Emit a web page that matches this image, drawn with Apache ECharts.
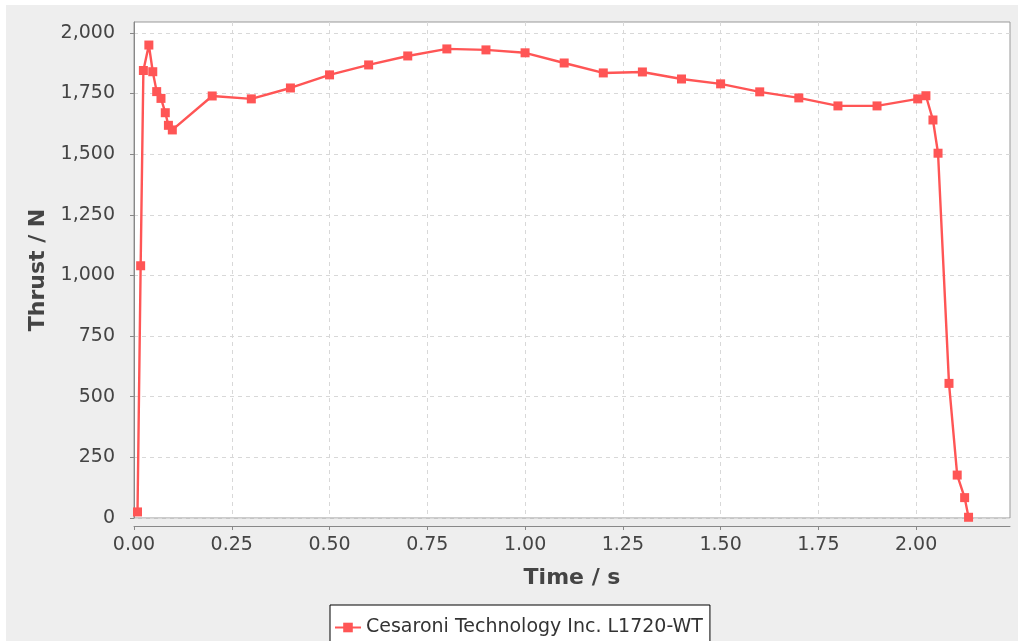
<!DOCTYPE html>
<html>
<head>
<meta charset="utf-8">
<script src="https://cdn.jsdelivr.net/npm/echarts@6/dist/echarts.min.js"></script>
<style>
  html, body { margin: 0; padding: 0; background: #fff; }
  #chart { width: 1018px; height: 641px; }
</style>
</head>
<body>
<div id="chart"></div>
<script>
// thrust curve
var times = [0.009, 0.017, 0.024, 0.038, 0.048, 0.058, 0.069, 0.080, 0.088, 0.098,
    0.2, 0.3, 0.4, 0.5, 0.6, 0.7, 0.8, 0.9, 1.0, 1.1, 1.2, 1.3, 1.4, 1.5, 1.6, 1.7, 1.8, 1.9,
    2.004, 2.025, 2.043, 2.056, 2.084, 2.105, 2.124, 2.134];
var thrust = [25, 1040, 1845, 1950, 1840, 1758, 1730, 1671, 1619, 1600,
    1740, 1728, 1773, 1827, 1868, 1905, 1934, 1930, 1918, 1876, 1835, 1839, 1810, 1790, 1757, 1732, 1699, 1699,
    1728, 1741, 1641, 1504, 555, 177, 84, 3];
var xTicks = [0, 0.25, 0.5, 0.75, 1.0, 1.25, 1.5, 1.75, 2.0];
var yTicks = [0, 250, 500, 750, 1000, 1250, 1500, 1750, 2000];
var seriesName = 'Cesaroni Technology Inc. L1720-WT';

var chart = echarts.init(document.getElementById('chart'));

var points = [];
for (var i = 0; i < times.length; i++) {
    points.push([times[i], thrust[i]]);
}

var font = 'DejaVu Sans';

var option = {
    backgroundColor: '#ffffff',
    animation: false,
    graphic: [{
        type: 'rect',
        left: 6, top: 5,
        shape: {width: 1012, height: 636},
        style: {fill: '#eeeeee'},
        z: -10
    }],
    grid: {
        left: 134, right: 8, top: 22, bottom: 123,
        show: true,
        backgroundColor: '#ffffff',
        borderColor: '#999999',
        borderWidth: 1
    },
    legend: {
        left: 330, top: 605,
        data: [seriesName],
        backgroundColor: '#ffffff',
        borderColor: '#000000',
        borderWidth: 1,
        padding: [13, 7, 12, 4],
        itemWidth: 26,
        itemHeight: 12,
        textStyle: {fontFamily: font, fontSize: 19, color: '#333333'}
    },
    xAxis: {
        type: 'value',
        min: 0, max: 2.24,
        offset: 8,
        name: 'Time / s',
        nameLocation: 'middle',
        nameGap: 41,
        nameTextStyle: {fontFamily: font, fontSize: 22, fontWeight: 'bold', color: '#444444'},
        axisLine: {show: true, onZero: false, lineStyle: {color: '#888888', width: 1}},
        axisTick: {show: true, length: 4, customValues: xTicks, lineStyle: {color: '#888888'}},
        axisLabel: {
            customValues: xTicks,
            margin: 10,
            fontFamily: font, fontSize: 19, color: '#444444',
            formatter: function (v) { return v.toFixed(2); }
        },
        splitLine: {show: true, lineStyle: {color: '#d8d8d8', type: [4, 4]}}
    },
    yAxis: {
        type: 'value',
        min: 0, max: 2045,
        offset: 6,
        name: 'Thrust / N',
        nameLocation: 'middle',
        nameGap: 76,
        nameTextStyle: {fontFamily: font, fontSize: 22, fontWeight: 'bold', color: '#444444'},
        axisLine: {show: true, lineStyle: {color: '#888888', width: 1}},
        axisTick: {show: true, length: 4, customValues: yTicks, lineStyle: {color: '#888888'}},
        axisLabel: {
            customValues: yTicks,
            margin: 13,
            fontFamily: font, fontSize: 19, color: '#444444',
            formatter: function (v) { return v.toLocaleString('en-US'); }
        },
        splitLine: {show: true, lineStyle: {color: '#d8d8d8', type: [4, 4]}}
    },
    series: [{
        name: seriesName,
        type: 'line',
        data: points,
        symbol: 'rect',
        symbolSize: 9,
        showAllSymbol: true,
        color: '#ff5555',
        lineStyle: {width: 2.4, color: '#ff5555'},
        itemStyle: {color: '#ff5555'}
    }]
};

chart.setOption(option);
</script>
</body>
</html>
